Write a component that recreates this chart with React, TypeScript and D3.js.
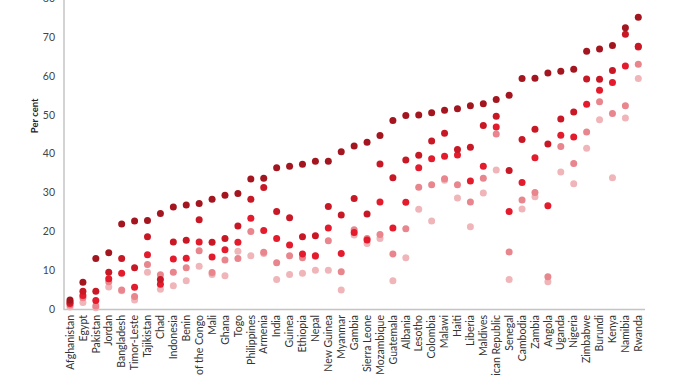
import React from "react";
import * as d3 from "d3";

const countries = [
  "Afghanistan","Egypt","Pakistan","Jordan","Bangladesh","Timor-Leste","Tajikistan","Chad","Indonesia","Benin",
  "Democratic Republic of the Congo","Mali","Ghana","Togo","Philippines","Armenia","India","Guinea","Ethiopia","Nepal",
  "Papua New Guinea","Myanmar","Gambia","Sierra Leone","Mozambique","Guatemala","Albania","Lesotho","Colombia","Malawi",
  "Haiti","Liberia","Maldives","Dominican Republic","Senegal","Cambodia","Zambia","Angola","Uganda","Nigeria",
  "Zimbabwe","Burundi","Kenya","Namibia","Rwanda"
];

const series1 = [2.3,6.9,13.0,14.5,21.9,22.7,22.8,24.6,26.3,26.8,27.2,28.3,29.3,29.8,33.5,33.7,36.4,36.8,37.3,38.1,38.1,40.5,42.0,43.0,44.7,48.6,49.9,50.0,50.6,51.2,51.6,52.4,52.9,54.0,55.1,59.4,59.5,60.8,61.3,61.8,66.4,67.0,67.9,72.5,75.2];
const series2 = [1.8,4.6,4.6,9.5,13.0,10.6,18.6,7.6,17.3,17.7,23.0,17.2,18.2,21.4,28.3,31.3,25.1,23.5,18.6,18.9,26.4,24.2,28.5,24.5,37.4,33.8,38.4,39.6,43.3,45.3,41.1,41.7,47.3,49.7,35.7,43.7,46.3,42.5,49.0,50.8,59.3,59.2,61.5,70.8,67.7];
const series3 = [1.4,3.5,2.2,7.8,9.2,5.6,14.0,6.4,12.9,13.1,17.3,13.4,15.3,17.2,23.4,20.2,18.2,16.5,14.2,13.7,20.9,14.3,19.7,17.8,27.6,20.9,27.5,36.4,38.7,39.4,39.7,33.0,36.8,46.9,25.1,32.6,39.0,26.6,44.8,44.3,52.8,56.4,58.4,62.6,67.5];
const series4 = [1.0,2.9,0.8,7.0,4.9,3.2,11.5,8.8,9.5,10.6,15.0,9.4,12.6,13.0,20.0,14.6,11.9,13.7,13.2,13.6,17.6,9.6,20.4,18.2,19.2,14.2,20.7,31.4,32.0,33.6,32.0,27.6,33.7,45.1,14.7,28.1,30.0,8.3,41.9,37.5,45.6,53.4,50.4,52.4,63.1];
const series5 = [0.5,1.7,0.3,5.7,4.7,2.3,9.5,5.1,6.0,7.3,11.0,8.9,8.6,14.9,13.7,14.3,7.6,8.9,9.2,10.0,10.0,4.9,19.1,16.9,18.2,7.3,13.2,25.7,22.7,33.2,28.6,21.2,29.9,35.8,7.6,25.8,28.9,7.0,35.3,32.3,41.4,48.8,33.8,49.2,59.4];

const seriesList = [series5, series4, series3, series2, series1];
const colors = ["#f0b5b8", "#e8858d", "#e31b2c", "#c81825", "#a3161f"];
const yTicks = [0, 10, 20, 30, 40, 50, 60, 70, 80];

export default function App() {
  const W = 675, H = 375;
  const x = d3.scalePoint<string>().domain(countries).range([70, 638.3]);
  const y = d3.scaleLinear().domain([0, 80]).range([309, -1.4]);
  const font = "Lato, 'Open Sans', sans-serif";

  return (
    <svg width={W} height={H} style={{ position: "absolute", left: 0, top: 0, background: "#fff" }}
      xmlns="http://www.w3.org/2000/svg">
      <line x1={64} x2={64} y1={-2} y2={309.5} stroke="#c4c4c4" strokeWidth={1.5} />
      <line x1={63.5} x2={645} y1={309.5} y2={309.5} stroke="#c4c4c4" strokeWidth={1.5} />
      {yTicks.map(t => (
        <text key={t} x={55} y={y(t)} dy="0.35em" textAnchor="end" fontSize={10.5}
          fill="#444" fontFamily={font}>{t}</text>
      ))}
      <text transform={`translate(38,${y(40) - 38}) rotate(-90)`} textAnchor="middle" fontSize={9.5}
        fontWeight="bold" fill="#222" fontFamily={font}>Per cent</text>
      {seriesList.map((s, si) => (
        <g key={si}>
          {s.map((v, i) => (
            <circle key={i} cx={x(countries[i])} cy={y(v)} r={3.5} fill={colors[si]} />
          ))}
        </g>
      ))}
      {countries.map(c => (
        <text key={c} transform={`translate(${x(c)},315) rotate(-90)`} dy="0.35em" textAnchor="end"
          fontSize={10.5} fill="#333" fontFamily={font}>{c}</text>
      ))}
    </svg>
  );
}
